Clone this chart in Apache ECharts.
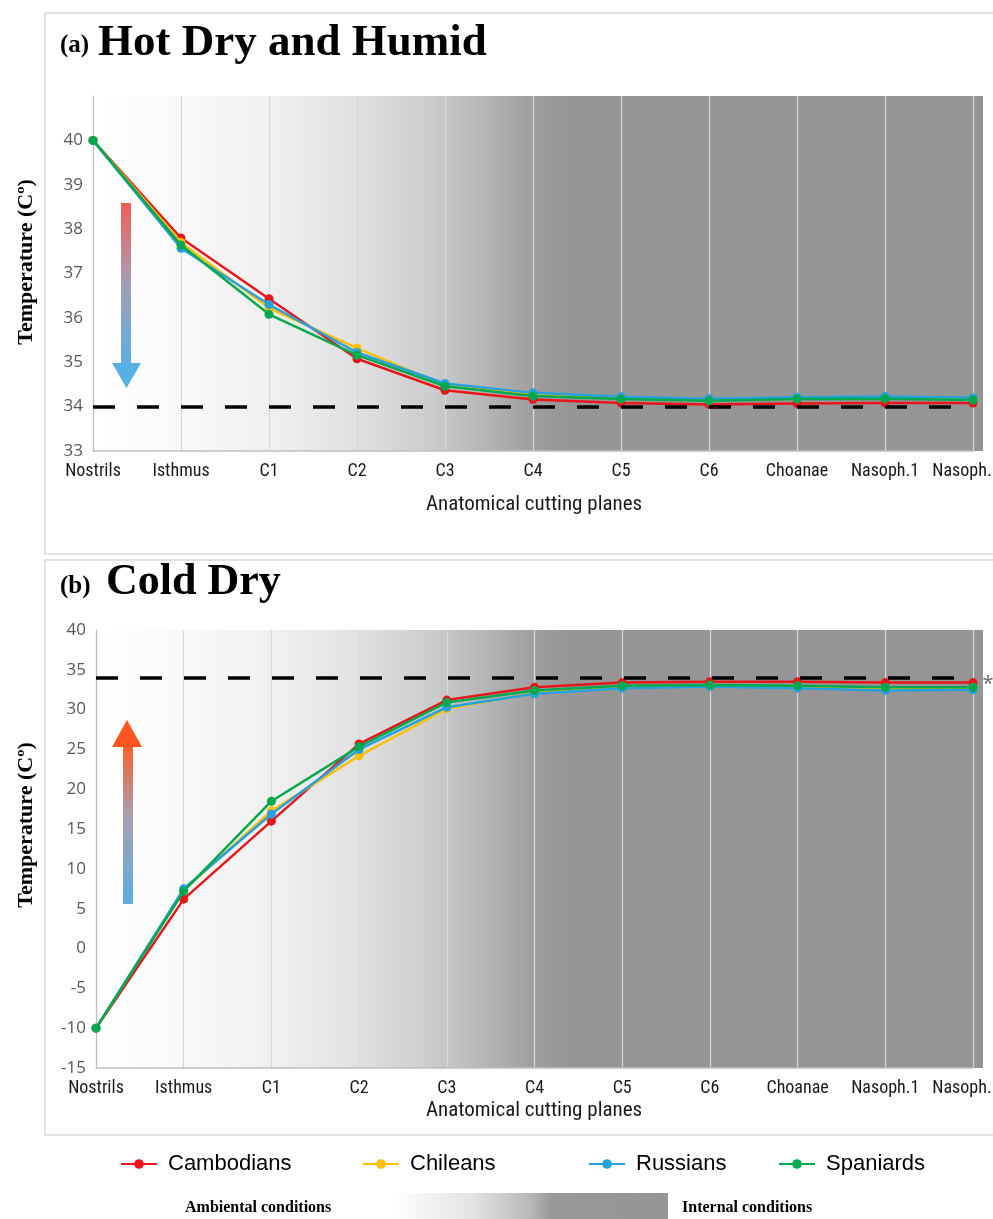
<!DOCTYPE html>
<html>
<head>
<meta charset="utf-8">
<script src="https://cdn.jsdelivr.net/npm/echarts@6/dist/echarts.min.js"></script>
<style>
  html, body { margin: 0; padding: 0; background: #fff; }
  #chart { width: 993px; height: 1219px; }
</style>
</head>
<body>
<div id="chart"></div>
<script>
  // x axis categories (same for both panels)
  const categories = ['Nostrils', 'Isthmus', 'C1', 'C2', 'C3', 'C4', 'C5', 'C6', 'Choanae', 'Nasoph.1', 'Nasoph.']
  const groups = ['Cambodians', 'Chileans', 'Russians', 'Spaniards']
  const colors = ['#e8161b', '#ffc000', '#27a0de', '#00a84f']

  // (a) hot dry and humid
  const hotCambodians = [40, 37.80, 36.43, 35.08, 34.37, 34.16, 34.08, 34.05, 34.07, 34.08, 34.08]
  const hotChileans = [40, 37.70, 36.22, 35.32, 34.48, 34.27, 34.19, 34.15, 34.18, 34.20, 34.18]
  const hotRussians = [40, 37.57, 36.30, 35.22, 34.52, 34.31, 34.22, 34.18, 34.21, 34.23, 34.20]
  const hotSpaniards = [40, 37.64, 36.08, 35.16, 34.46, 34.24, 34.17, 34.13, 34.17, 34.18, 34.15]

  // (b) cold dry
  const coldCambodians = [-10, 6.2, 16.0, 25.7, 31.2, 32.8, 33.4, 33.5, 33.5, 33.4, 33.4]
  const coldChileans = [-10, 7.3, 17.3, 24.2, 30.1, 32.1, 32.8, 33.0, 32.9, 32.6, 32.6]
  const coldRussians = [-10, 7.5, 16.9, 25.0, 30.3, 32.0, 32.7, 32.9, 32.7, 32.4, 32.5]
  const coldSpaniards = [-10, 7.2, 18.5, 25.35, 30.9, 32.4, 33.0, 33.1, 33.0, 32.8, 32.8]

  // body temperature reference line
  const bodyTemp = 34

  const hotData = [hotCambodians, hotChileans, hotRussians, hotSpaniards]
  const coldData = [coldCambodians, coldChileans, coldRussians, coldSpaniards]

  // layout
  const gA = {left: 93, top: 96, right: 973, height: 355}
  const gB = {left: 96, top: 630, right: 973, height: 438}
  const plotEnd = 983

  const narrow = "'Liberation Sans Narrow', 'Roboto Condensed', 'Open Sans', sans-serif"
  const serif = "'Liberation Serif', 'Times New Roman', serif"

  // ambient -> internal shading
  const bgGradient = {
    type: 'linear', x: 0, y: 0, x2: 1, y2: 0,
    colorStops: [
      {offset: 0, color: '#ffffff'},
      {offset: 0.1, color: '#f9f9f9'},
      {offset: 0.2, color: '#f0f0f0'},
      {offset: 0.3, color: '#e0e0e0'},
      {offset: 0.38, color: '#cccccc'},
      {offset: 0.44, color: '#b5b5b5'},
      {offset: 0.49, color: '#a0a0a0'},
      {offset: 0.53, color: '#969696'},
      {offset: 1, color: '#959595'}
    ]
  }

  function xAxisFor(gridIndex) {
    return {
      type: 'category',
      gridIndex: gridIndex,
      data: categories,
      boundaryGap: false,
      axisLine: {onZero: false, lineStyle: {color: '#bfbfbf', width: 1.5}},
      axisTick: {show: false},
      axisLabel: {
        interval: 0, color: '#1a1a1a', fontSize: 18, fontFamily: narrow, margin: 11,
        // last label sits a little left so it stays inside the page
        formatter: function (value, index) {
          return index === categories.length - 1 ? '{last|' + value + '}' : value
        },
        rich: {last: {fontSize: 18, fontFamily: narrow, color: '#1a1a1a', padding: [0, 22, 0, 0]}}
      },
      splitLine: {show: true, lineStyle: {color: '#d9d9d9', width: 1.2}}
    }
  }

  function yAxisFor(gridIndex, min, max, interval, hideMax) {
    return {
      type: 'value',
      gridIndex: gridIndex,
      min: min,
      max: max,
      interval: interval,
      axisLine: {show: true, onZero: false, lineStyle: {color: '#bfbfbf', width: 1.2}},
      axisTick: {show: false},
      axisLabel: {color: '#595959', fontSize: 17, fontFamily: "'Open Sans', sans-serif", margin: 10, showMaxLabel: !hideMax},
      splitLine: {show: false}
    }
  }

  const series = []
  groups.forEach(function (name, i) {
    [hotData, coldData].forEach(function (set, g) {
      const s = {
        name: name,
        type: 'line',
        xAxisIndex: g,
        yAxisIndex: g,
        data: set[i],
        symbol: 'circle',
        symbolSize: 9,
        lineStyle: {width: 2.5, color: colors[i]},
        itemStyle: {color: colors[i]},
        emphasis: {disabled: true},
        animation: false,
        z: 3 + i
      }
      if (i === 0) {
        s.markLine = {
          silent: true,
          symbol: 'none',
          label: {show: false},
          lineStyle: {color: '#000', type: [22, 22], width: 3.5},
          data: [{yAxis: bodyTemp}]
        }
      }
      series.push(s)
    })
  })

  function legendAt(name, left) {
    return {
      data: [name],
      left: left,
      top: 1148,
      itemWidth: 36,
      itemHeight: 12,
      textStyle: {fontSize: 22, color: '#000', fontFamily: "'Liberation Sans', Arial, sans-serif", padding: [0, 0, 0, 6]}
    }
  }

  function arrowShaft(x, y1, y2, stops) {
    return {
      type: 'rect', z: 1,
      shape: {x: x, y: y1, width: 10, height: y2 - y1},
      style: {fill: {type: 'linear', x: 0, y: 0, x2: 0, y2: 1, colorStops: stops}}
    }
  }

  const chart = echarts.init(document.getElementById('chart'), null, {renderer: 'canvas'})
  chart.setOption({
    backgroundColor: '#fff',
    animation: false,
    grid: [
      {left: gA.left, top: gA.top, width: gA.right - gA.left, height: gA.height, outerBoundsMode: 'none'},
      {left: gB.left, top: gB.top, width: gB.right - gB.left, height: gB.height, outerBoundsMode: 'none'}
    ],
    xAxis: [xAxisFor(0), xAxisFor(1)],
    yAxis: [yAxisFor(0, 33, 41, 1, true), yAxisFor(1, -15, 40, 5, false)],
    legend: [
      legendAt('Cambodians', 115),
      legendAt('Chileans', 357),
      legendAt('Russians', 583),
      legendAt('Spaniards', 773)
    ],
    series: series,
    graphic: [
      // panel frames
      {type: 'rect', z: -20, shape: {x: 45, y: 13, width: 1000, height: 541}, style: {fill: '#fff', stroke: '#d9d9d9', lineWidth: 1.5}},
      {type: 'rect', z: -20, shape: {x: 45, y: 560, width: 1000, height: 575}, style: {fill: '#fff', stroke: '#d9d9d9', lineWidth: 1.5}},
      // plot backgrounds
      {type: 'rect', z: -10, shape: {x: gA.left, y: gA.top, width: plotEnd - gA.left, height: gA.height}, style: {fill: bgGradient}},
      {type: 'rect', z: -10, shape: {x: gB.left, y: gB.top, width: plotEnd - gB.left, height: gB.height}, style: {fill: bgGradient}},
      // titles
      {type: 'text', left: 60, top: 33, style: {text: '(a)', font: 'bold 25px ' + serif, fill: '#000'}},
      {type: 'text', left: 98, top: 21, style: {text: 'Hot Dry and Humid', font: 'bold 45px ' + serif, fill: '#000'}},
      {type: 'text', left: 60, top: 574, style: {text: '(b)', font: 'bold 25px ' + serif, fill: '#000'}},
      {type: 'text', left: 106, top: 561, style: {text: 'Cold Dry', font: 'bold 44px ' + serif, fill: '#000'}},
      // y axis names
      {type: 'text', x: 26, y: 262, rotation: Math.PI / 2, style: {text: 'Temperature (Cº)', font: 'bold 22px ' + serif, fill: '#000', align: 'center', verticalAlign: 'middle'}},
      {type: 'text', x: 26, y: 825, rotation: Math.PI / 2, style: {text: 'Temperature (Cº)', font: 'bold 22px ' + serif, fill: '#000', align: 'center', verticalAlign: 'middle'}},
      // x axis names
      {type: 'text', x: 534, y: 505, style: {text: 'Anatomical cutting planes', font: '21px ' + narrow, fill: '#1a1a1a', align: 'center', verticalAlign: 'middle'}},
      {type: 'text', x: 534, y: 1111, style: {text: 'Anatomical cutting planes', font: '21px ' + narrow, fill: '#1a1a1a', align: 'center', verticalAlign: 'middle'}},
      // asterisk
      {type: 'text', x: 988, y: 684, style: {text: '*', font: '20px ' + "'Open Sans', sans-serif", fill: '#666', align: 'center', verticalAlign: 'middle'}},
      // cooling arrow (a)
      arrowShaft(121, 203, 364, [{offset: 0, color: '#f25f58'}, {offset: 0.5, color: '#a39fb6'}, {offset: 1, color: '#5cb0e1'}]),
      {type: 'polygon', z: 1, shape: {points: [[112, 363], [141, 363], [126.5, 388]]}, style: {fill: '#56b0e3'}},
      // warming arrow (b)
      arrowShaft(123, 745, 904, [{offset: 0, color: '#fb5f2c'}, {offset: 0.45, color: '#a8a0b2'}, {offset: 1, color: '#5aaee0'}]),
      {type: 'polygon', z: 1, shape: {points: [[112, 747], [142, 747], [127, 720]]}, style: {fill: '#ff551e'}},
      // bottom condition key
      {type: 'text', x: 185, y: 1208, style: {text: 'Ambiental conditions', font: 'bold 16px ' + serif, fill: '#000', verticalAlign: 'middle'}},
      {type: 'rect', shape: {x: 392, y: 1193, width: 276, height: 26}, style: {fill: {
        type: 'linear', x: 0, y: 0, x2: 1, y2: 0,
        colorStops: [{offset: 0, color: '#ffffff'}, {offset: 0.3, color: '#e2e2e2'}, {offset: 0.5, color: '#b8b8b8'}, {offset: 0.58, color: '#989898'}, {offset: 1, color: '#959595'}]
      }}},
      {type: 'text', x: 682, y: 1208, style: {text: 'Internal conditions', font: 'bold 16px ' + serif, fill: '#000', verticalAlign: 'middle'}}
    ]
  })
</script>
</body>
</html>
